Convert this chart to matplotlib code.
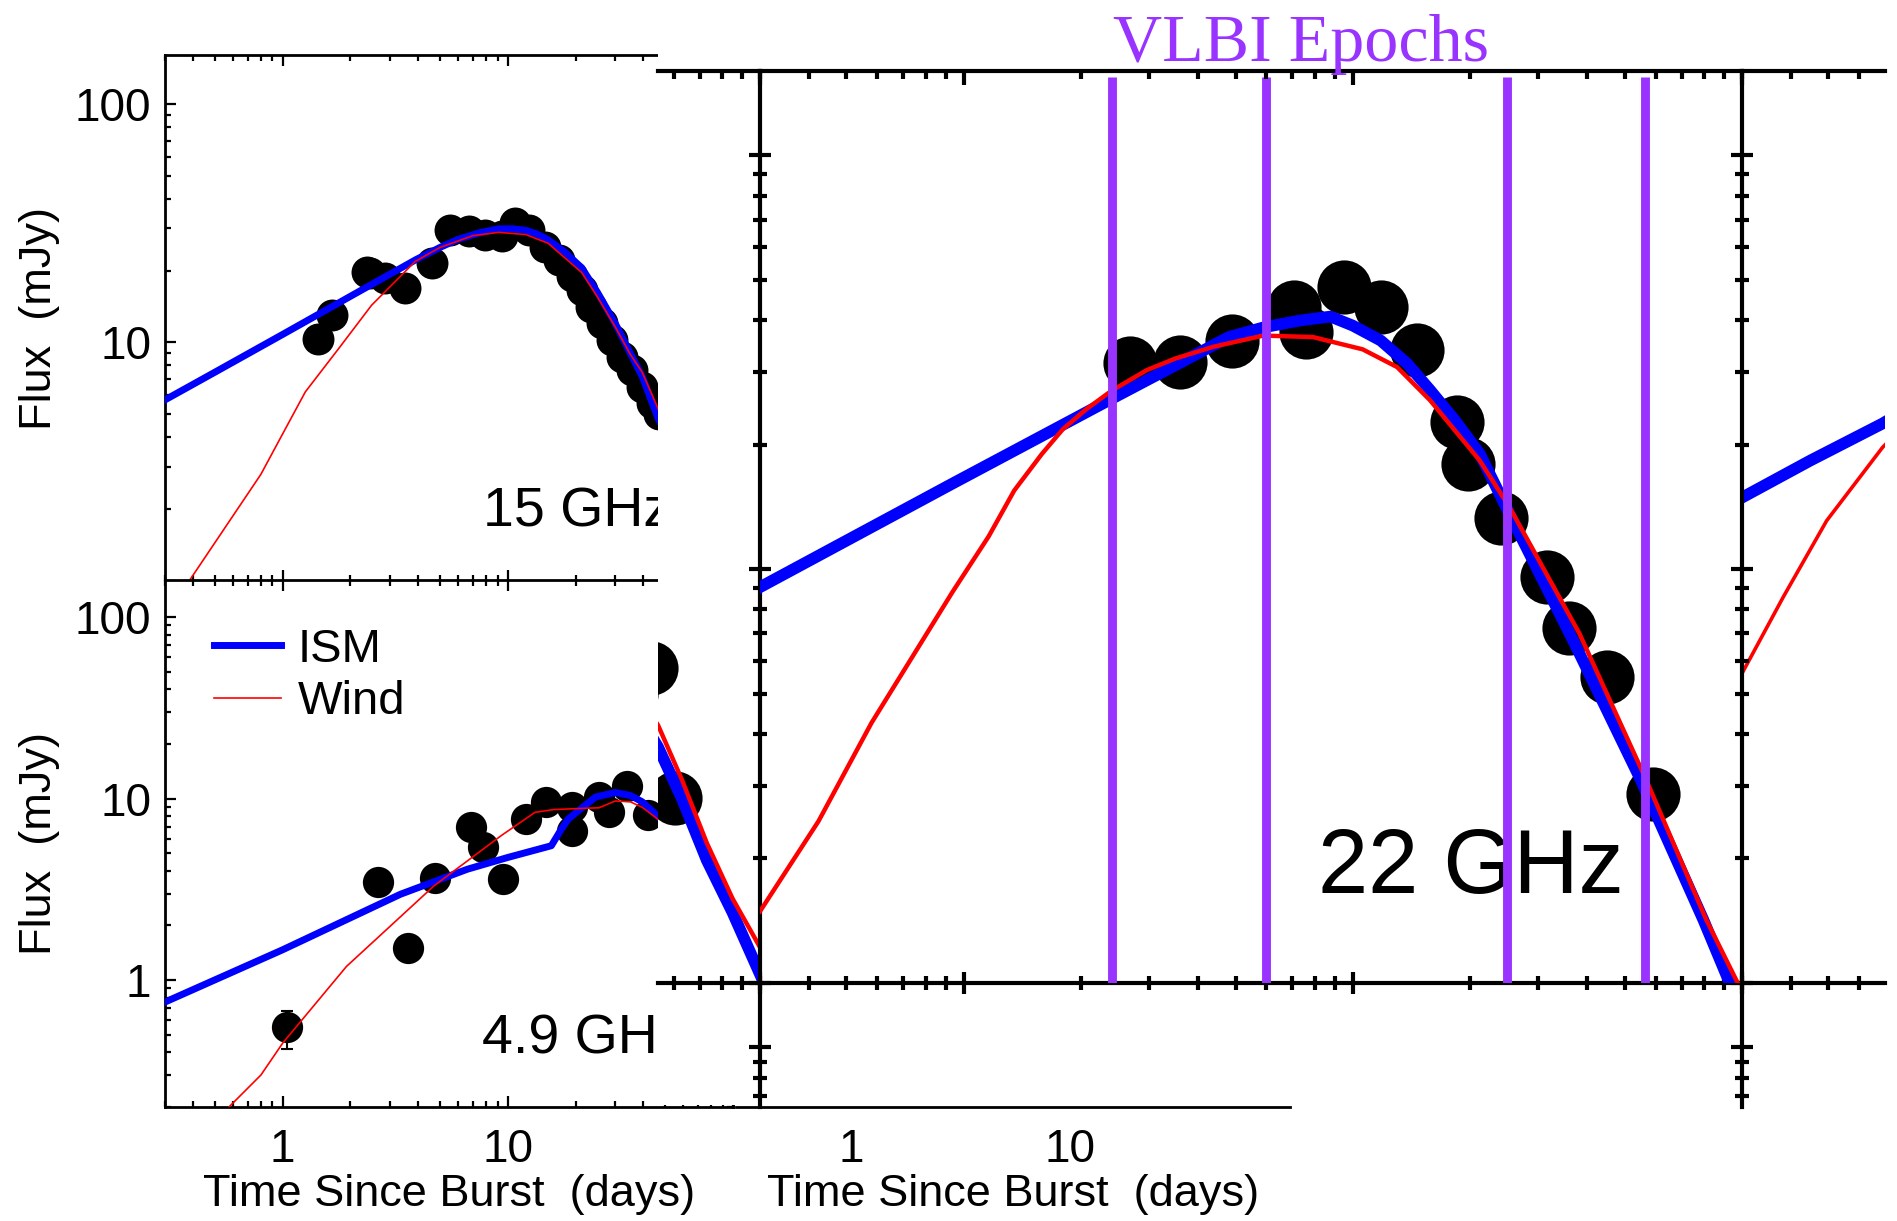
import numpy as np
import matplotlib
matplotlib.use("Agg")
import matplotlib.pyplot as plt
from matplotlib.ticker import LogLocator, NullFormatter

plt.rcParams["font.family"] = ["Liberation Sans", "DejaVu Sans"]

W, H, DPI = 1897, 1221, 100

# ---------------- 15 GHz ----------------
days_15 = [1.43, 1.65, 2.36, 2.44, 2.85, 3.49, 4.59, 5.54, 6.7, 7.9, 9.4, 10.8, 12.4, 14.6,
           16.8, 19.2, 21.3, 23.5, 26.1, 29.0, 32.2, 35.5, 39.4, 43.5, 46.7, 52.4, 60.6]
flux_15 = [10.3, 13.0, 19.8, 19.5, 18.6, 16.9, 21.5, 29.7, 29.2, 28.2, 27.8, 31.6, 29.7, 25.2,
           22.2, 18.9, 16.6, 14.1, 12.0, 10.2, 8.7, 7.67, 6.5, 5.56, 5.0, 5.77, 2.80]
ism_15_t = [0.3, 0.5, 1.0, 2.0, 3.9, 5.0, 6.0, 7.5, 9.1, 10.5, 12.0, 13.5, 15.1, 18.0, 21.3,
            25.0, 30.0, 35.0, 39.5, 46.8, 54.7, 63.0, 73.0, 85.0, 100.0]
ism_15_f = [5.74, 7.5, 10.8, 15.6, 22.2, 25.0, 27.0, 28.8, 29.9, 29.9, 29.5, 28.4, 26.9, 23.8,
            20.5, 16.2, 12.0, 9.0, 7.2, 4.73, 3.72, 2.79, 1.98, 1.48, 1.05]
wind_15_t = [0.384, 0.6, 0.8, 1.0, 1.26, 1.8, 2.48, 3.2, 3.87, 5.0, 7.0, 9.1, 12.0, 15.1,
             18.0, 21.3, 25.0, 30.0, 35.0, 39.5, 46.8, 54.7, 63.0, 73.0, 85.0, 100.0]
wind_15_f = [1.0, 1.87, 2.8, 4.14, 6.2, 9.6, 14.3, 18.2, 21.8, 25.0, 28.0, 28.9, 28.3, 26.0,
             22.5, 19.6, 15.5, 11.6, 8.9, 7.5, 5.2, 4.2, 3.1, 2.18, 1.6, 1.22]

# ---------------- 4.9 GHz ----------------
days_49 = [1.05, 2.66, 3.59, 4.77, 6.84, 7.73, 9.5, 12.1, 14.8, 19.3, 19.3, 25.3, 28.0, 33.8, 42.0]
flux_49 = [0.55, 3.49, 1.51, 3.63, 6.95, 5.39, 3.59, 7.74, 9.6, 6.67, 8.95, 10.2, 8.43, 11.8, 8.1]
err_day_49 = [1.05]
err_flux_49 = [0.55]
err_low_49 = [0.42]
err_high_49 = [0.68]
ism_49_t = [0.3, 1.0, 3.33, 6.6, 10.0, 15.6, 17.3, 18.6, 24.5, 30.0, 35.0, 39.5, 48.4]
ism_49_f = [0.757, 1.47, 2.97, 4.08, 4.74, 5.5, 6.8, 7.74, 10.2, 10.8, 10.4, 9.6, 7.6]
wind_49_t = [0.577, 0.8, 1.0, 1.92, 3.0, 4.69, 9.34, 13.2, 16.0, 20.0, 25.4, 30.0, 35.0, 39.5, 48.4]
wind_49_f = [0.2, 0.30, 0.45, 1.19, 1.98, 3.3, 6.25, 8.4, 8.7, 8.8, 8.9, 9.7, 9.6, 8.95, 7.4]

# ---------------- 22 GHz ----------------
days_22 = [2.68, 3.59, 4.9, 7.06, 7.6, 9.5, 11.8, 14.6, 18.5, 19.8, 24.0, 31.6, 36.0, 45.0, 58.9]
flux_22 = [31.5, 31.6, 35.7, 43.0, 37.5, 48.0, 43.0, 33.8, 22.7, 18.0, 13.3, 9.6, 7.2, 5.5, 2.87]
ism_22_t = [0.3, 0.936, 2.38, 3.59, 4.8, 5.89, 7.3, 8.76, 10.0, 11.8, 13.8, 15.8, 18.3, 21.2,
            24.8, 36.9, 55.0, 79.6, 93.0]
ism_22_f = [9.05, 16.1, 25.7, 31.5, 36.4, 38.4, 39.9, 40.8, 38.8, 35.7, 31.4, 27.1, 22.9, 19.0,
            14.1, 6.7, 3.09, 1.42, 1.0]
wind_22_t = [0.3, 0.424, 0.58, 0.936, 1.16, 1.35, 1.59, 1.8, 2.06, 2.4, 2.96, 3.5, 4.39, 5.89,
             7.9, 10.6, 13.0, 15.8, 21.2, 25.3, 38.2, 56.8, 81.0, 97.5]
wind_22_f = [1.49, 2.46, 4.25, 8.8, 12.0, 15.5, 19.0, 21.8, 24.3, 27.0, 30.3, 32.3, 34.5, 36.7,
             36.4, 34.0, 30.8, 25.6, 18.3, 14.1, 7.0, 3.09, 1.42, 1.0]
vlbi_epochs = [2.41, 5.99, 24.9, 56.5]

# start of the neighbouring higher-frequency panel
ism_next_t = [0.3, 0.449, 0.689, 0.70]
ism_next_f = [14.9, 18.3, 22.5, 22.7]
wind_next_t = [0.3, 0.383, 0.495, 0.689, 0.70]
wind_next_f = [5.6, 8.57, 13.1, 19.7, 20.0]

T_RANGE = (0.3, 100.0)
F_TOP = (1.0, 160.0)
F_BOTTOM = (0.2, 160.0)

BLUE = "#0000ff"
RED = "#ff0000"
PURPLE = "#9933ff"

TICK_FS = 33
LABEL_FS = 32.5
BAND_FS = 40

fig = plt.figure(figsize=(W / DPI, H / DPI), dpi=DPI, facecolor="white")


def px_axes(x0, y0, x1, y1):
    return fig.add_axes([x0 / W, 1 - y1 / H, (x1 - x0) / W, (y1 - y0) / H])


def set_log(ax, xlim, ylim):
    ax.set_xscale("log")
    ax.set_yscale("log")
    for axis in (ax.xaxis, ax.yaxis):
        axis.set_minor_locator(LogLocator(base=10, subs=np.arange(2, 10), numticks=100))
        axis.set_minor_formatter(NullFormatter())
    ax.set_xlim(*xlim)
    ax.set_ylim(*ylim)


def small_panel(x0, y0, x1, y1, ylim, ylabels, xlabels):
    ax = px_axes(x0, y0, x1, y1)
    set_log(ax, T_RANGE, ylim)
    ax.set_xticks([1, 10, 100], labels=xlabels)
    ax.set_yticks([1, 10, 100], labels=ylabels)
    ax.set_xlim(*T_RANGE)
    ax.set_ylim(*ylim)
    for s in ax.spines.values():
        s.set_linewidth(2)
    ax.tick_params(which="both", direction="in", top=True, right=True, width=1.6,
                   labelsize=TICK_FS, colors="black")
    ax.tick_params(which="major", length=8)
    ax.tick_params(which="minor", length=4.5)
    ax.tick_params(axis="x", pad=15)
    ax.tick_params(axis="y", pad=10)
    return ax


# ---------------- left column ----------------
ax15 = small_panel(165, 55, 733, 581, F_TOP, ["", "10", "100"], ["", "", ""])
ax15.plot(days_15, flux_15, "o", color="black", ms=23, mew=0, zorder=2)
ax15.plot(ism_15_t, ism_15_f, color=BLUE, lw=5, zorder=3)
ax15.plot(wind_15_t, wind_15_f, color=RED, lw=1.2, zorder=4)
ax15.text(0.560, 0.103, "15 GHz", transform=ax15.transAxes, fontsize=BAND_FS,
          ha="left", va="baseline")
ax15.set_ylabel("Flux  (mJy)", fontsize=LABEL_FS)
ax15.yaxis.set_label_coords(-0.185, 0.5)

ax49 = small_panel(165, 580, 733, 1107, F_BOTTOM, ["1", "10", "100"], ["1", "10", ""])
ax49.errorbar(err_day_49, err_flux_49,
              yerr=[np.subtract(err_flux_49, err_low_49), np.subtract(err_high_49, err_flux_49)],
              fmt="none", ecolor="black", elinewidth=1.5, capsize=4.5, capthick=1.5, zorder=1)
ax49.plot(days_49, flux_49, "o", color="black", ms=22.5, mew=0, zorder=2)
l_ism, = ax49.plot(ism_49_t, ism_49_f, color=BLUE, lw=5, zorder=3, label="ISM")
l_wind, = ax49.plot(wind_49_t, wind_49_f, color=RED, lw=1.2, zorder=4, label="Wind")
ax49.text(0.558, 0.102, "4.9 GHz", transform=ax49.transAxes, fontsize=BAND_FS,
          ha="left", va="baseline")
ax49.set_ylabel("Flux  (mJy)", fontsize=LABEL_FS)
ax49.yaxis.set_label_coords(-0.185, 0.5)
ax49.set_xlabel("Time Since Burst  (days)", fontsize=LABEL_FS)
ax49.xaxis.set_label_coords(0.5, -0.127)
ax49.legend(handles=[l_ism, l_wind], loc="upper left", bbox_to_anchor=(0.086, 0.909),
            frameon=False, fontsize=34, handlelength=1.42, handletextpad=0.36,
            labelspacing=0.18, borderpad=0, borderaxespad=0)

# middle column, lower panel (only its bottom edge shows)
axmid = small_panel(736, 580, 1290, 1107, F_BOTTOM, ["", "", ""], ["1", "10", ""])
for side in ("left", "right", "top"):
    axmid.spines[side].set_visible(False)
axmid.tick_params(which="both", length=0, left=False, right=False, top=False)
axmid.set_xlabel("Time Since Burst  (days)", fontsize=LABEL_FS)
axmid.xaxis.set_label_coords(0.5, -0.127)

# ---------------- enlarged 22 GHz view ----------------
bg = px_axes(658, 0, 1897, 1105)
bg.set_facecolor("white")
bg.set_xticks([])
bg.set_yticks([])
for s in bg.spines.values():
    s.set_visible(False)

TX0, TY0, TX1, TY1 = 760, 71, 1742, 983
dec_x = (TX1 - TX0) / np.log10(T_RANGE[1] / T_RANGE[0])
LINE_W = 3.0


def top_ticks(ax):
    tw = ax.twiny()
    tw.set_xscale("log")
    tw.xaxis.set_minor_locator(LogLocator(base=10, subs=np.arange(2, 10), numticks=100))
    tw.xaxis.set_minor_formatter(NullFormatter())
    tw.set_xlim(ax.get_xlim())
    tw.tick_params(axis="x", which="both", direction="in", top=True, bottom=False,
                   labeltop=False, labelbottom=False, width=LINE_W)
    tw.tick_params(axis="x", which="major", length=10)
    tw.tick_params(axis="x", which="minor", length=6)
    for s in tw.spines.values():
        s.set_visible(False)
    tw.patch.set_visible(False)
    return tw


def strip(x0, x1, xlim):
    ax = px_axes(x0, TY0, x1, TY1)
    ax.patch.set_visible(False)
    set_log(ax, xlim, F_TOP)
    for side in ("left", "right"):
        ax.spines[side].set_visible(False)
    for side in ("top", "bottom"):
        ax.spines[side].set_linewidth(LINE_W)
    ax.tick_params(which="both", left=False, right=False, top=False, labelleft=False,
                   labelbottom=False)
    ax.tick_params(axis="x", which="both", direction="inout", bottom=True, width=LINE_W)
    ax.tick_params(axis="x", which="major", length=16)
    ax.tick_params(axis="x", which="minor", length=10)
    top_ticks(ax)
    return ax


# tail of the 15 GHz panel
left_lo = T_RANGE[1] / 10 ** ((TX0 - 658) / dec_x)
lst = strip(658, TX0, (left_lo, T_RANGE[1]))
lst.plot(days_15, flux_15, "o", color="black", ms=39, mew=0, zorder=2)
lst.plot(ism_15_t, ism_15_f, color=BLUE, lw=8.4, zorder=3)
lst.plot(wind_15_t, wind_15_f, color=RED, lw=3.2, zorder=4)

# start of the next panel
right_hi = T_RANGE[0] * 10 ** ((1885 - TX1) / dec_x)
rst = strip(TX1, 1885, (T_RANGE[0], right_hi))
rst.plot(ism_next_t, ism_next_f, color=BLUE, lw=8.4, zorder=3)
rst.plot(wind_next_t, wind_next_f, color=RED, lw=2.6, zorder=4)

# top of the panel row below
dec_low = (TY1 - TY0) / np.log10(F_TOP[1] / F_TOP[0]) * (527 / 526) * \
    np.log10(F_TOP[1] / F_TOP[0]) / np.log10(F_BOTTOM[1] / F_BOTTOM[0])
low_lim = (F_BOTTOM[1] / 10 ** ((1107 - TY1) / dec_low), F_BOTTOM[1])
bst = px_axes(TX0, TY1, TX1, 1107)
bst.patch.set_visible(False)
set_log(bst, T_RANGE, low_lim)
bst.set_yticks([100])
bst.set_ylim(*low_lim)
for side in ("top", "bottom"):
    bst.spines[side].set_visible(False)
for side in ("left", "right"):
    bst.spines[side].set_linewidth(LINE_W)
bst.tick_params(axis="x", which="both", bottom=False, top=False, labelbottom=False)
bst.tick_params(axis="y", which="both", direction="inout", left=True, right=True,
                labelleft=False, width=LINE_W)
bst.tick_params(axis="y", which="major", length=16)
bst.tick_params(axis="y", which="minor", length=10)

# main 22 GHz panel
tile = px_axes(TX0, TY0, TX1, TY1)
tile.patch.set_visible(False)
set_log(tile, T_RANGE, F_TOP)
for s in tile.spines.values():
    s.set_linewidth(LINE_W)
tile.tick_params(which="both", direction="inout", bottom=True, top=False, left=True,
                 right=True, width=LINE_W, labelbottom=False, labelleft=False)
tile.tick_params(which="major", length=16)
tile.tick_params(which="minor", length=10)
top_ticks(tile)
tile.plot(days_22, flux_22, "o", color="black", ms=39, mew=0, zorder=2)
tile.plot(ism_22_t, ism_22_f, color=BLUE, lw=8.4, zorder=3)
tile.plot(wind_22_t, wind_22_f, color=RED, lw=3.2, zorder=4)
tile.text(0.568, 0.0987, "22 GHz", transform=tile.transAxes, fontsize=65,
          ha="left", va="baseline", zorder=1.5)
for ep in vlbi_epochs:
    tile.axvline(ep, ymin=0, ymax=(TY1 - 77) / (TY1 - TY0), color=PURPLE, lw=6.4,
                 solid_capstyle="butt", zorder=6)

fig.text(1113 / W, 1 - 61 / H, "VLBI Epochs", fontsize=49, color=PURPLE,
         family=["Liberation Serif", "DejaVu Serif"], ha="left", va="baseline")

fig.savefig("out.png", dpi=DPI, facecolor="white")
